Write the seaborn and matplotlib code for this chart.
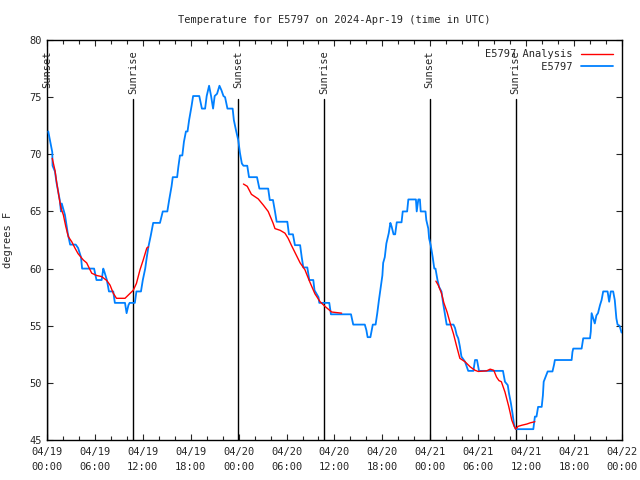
import pandas as pd
import matplotlib
matplotlib.use("Agg")
import matplotlib.pyplot as plt
import matplotlib.dates as mdates
import seaborn as sns

# hours since 2024-04-19 00:00 UTC
obs_hours = [0.16, 0.66, 0.7, 1.0, 1.2, 1.6, 1.75, 1.85, 2.25, 2.6, 2.9, 3.6, 3.9, 4.26, 4.4,
             5.9, 6.2, 6.85, 7.05, 7.2, 7.5, 7.76, 8.3, 8.5, 9.77, 9.97, 10.2, 10.35, 11.0,
             11.2, 11.77, 12.0, 12.3, 12.5, 12.7, 13.0, 13.3, 14.15, 14.5, 15.07, 15.3, 15.6,
             15.75, 16.3, 16.45, 16.65, 16.95, 17.15, 17.4, 17.6, 17.8, 18.1, 18.3, 19.07,
             19.4, 19.8, 20.0, 20.3, 20.55, 20.8, 21.0, 21.3, 21.6, 21.85, 22.1, 22.3, 22.6,
             23.25, 23.4, 23.67, 23.95, 24.17, 24.4, 24.6, 25.08, 25.3, 26.3, 26.6, 27.7,
             27.9, 28.3, 28.55, 28.76, 30.1, 30.3, 30.8, 31.05, 31.7, 31.9, 32.1, 32.6, 32.85,
             33.35, 33.5, 34.0, 34.1, 35.35, 35.56, 38.07, 38.35, 39.8, 40.0, 40.15, 40.5,
             40.66, 40.8, 41.15, 41.36, 41.57, 41.8, 42.0, 42.1, 42.3, 42.5, 42.8, 43.0,
             43.15, 43.4, 43.6, 43.8, 44.4, 44.55, 45.1, 45.25, 46.2, 46.3, 46.5, 46.7, 46.8,
             47.4, 47.5, 47.75, 47.85, 48.05, 48.3, 48.5, 48.65, 48.9, 49.1, 49.4, 49.6,
             49.85, 50.05, 50.9, 51.1, 51.3, 51.5, 51.7, 51.9, 52.35, 52.75, 53.4, 53.6,
             53.85, 54.1, 57.1, 57.35, 57.7, 57.85, 58.1, 58.3, 58.5, 58.7, 60.9, 61.1, 61.3,
             61.5, 61.95, 62.1, 62.2, 62.45, 62.7, 63.3, 63.5, 63.6, 65.7, 65.8, 65.9, 66.95,
             67.15, 68.0, 68.1, 68.2, 68.4, 68.6, 68.8, 69.0, 69.25, 69.45, 69.65, 70.2, 70.4,
             70.6, 70.9, 71.1, 71.3, 71.45, 71.7, 71.95]
obs_temps = [72.0, 70.2, 69.0, 68.5, 67.5, 66.0, 65.0, 65.7, 64.7, 63.1, 62.1, 62.1, 61.8, 61.0, 60.0,
             60.0, 59.0, 59.0, 60.0, 59.7, 59.0, 58.0, 58.0, 57.0, 57.0, 56.1, 56.8, 57.0, 57.0,
             58.0, 58.0, 59.0, 60.0, 61.0, 61.9, 62.9, 64.0, 64.0, 65.0, 65.0, 66.0, 67.2,
             68.0, 68.0, 68.9, 69.9, 69.9, 71.1, 72.0, 72.0, 73.0, 74.2, 75.1, 75.1,
             74.0, 74.0, 75.1, 76.0, 75.1, 74.0, 75.1, 75.3, 76.0, 75.6, 75.1, 75.0, 74.0,
             74.0, 73.0, 72.1, 71.25, 70.1, 69.2, 69.0, 69.0, 68.0, 68.0, 67.0, 67.0,
             66.0, 66.0, 65.0, 64.1, 64.1, 63.0, 63.0, 62.05, 62.05, 61.0, 60.1, 60.1, 59.0,
             59.0, 58.1, 57.5, 57.0, 57.0, 56.0, 56.0, 55.1, 55.1, 54.6, 54.0, 54.0,
             54.6, 55.1, 55.1, 56.1, 57.25, 58.4, 59.4, 60.5, 61.0, 62.2, 63.1, 64.0,
             63.7, 63.0, 63.0, 64.05, 64.05, 65.0, 65.0, 66.05, 66.05, 65.0, 66.05, 66.05, 65.0,
             65.0, 64.25, 63.5, 62.65, 62.05, 61.0, 60.0, 60.0, 59.0, 58.4, 58.0, 57.0,
             55.95, 55.1, 55.1, 54.8, 54.2, 53.9, 53.2, 52.3, 51.85, 51.05, 51.05, 52.0,
             52.0, 51.05, 51.05, 50.1, 49.8, 49.1, 48.2, 47.3, 46.3, 45.95, 45.95, 47.05, 47.05,
             47.9, 47.9, 48.9, 50.1, 50.55, 51.0, 51.0, 51.6, 52.0, 52.0, 52.7, 53.0, 53.0,
             53.9, 53.9, 54.5, 56.1, 55.65, 55.2, 55.9, 56.1, 56.8, 57.25, 58.0, 58.0, 57.1,
             58.0, 58.0, 57.25, 55.65, 55.1, 55.0, 54.4]

# analysis segments
ana_hours = [
    [0.66, 1.0, 1.2, 1.5, 1.75, 2.05, 2.35, 2.67, 3.1, 3.5, 3.9, 4.55, 4.97, 5.6, 6.2, 6.85,
     7.5, 7.9, 8.3, 8.7, 9.77, 10.8, 11.2, 11.65, 12.05, 12.5, 12.7],
    [24.6, 25.08, 25.6, 26.45, 27.1, 27.7, 28.3, 28.55, 29.2, 29.8, 30.2, 30.6, 31.7, 32.3,
     32.9, 33.55, 34.2, 34.8, 35.65, 36.9],
    [48.7, 49.0, 49.4, 49.7, 50.1, 50.5, 50.9, 51.3, 51.7, 52.35, 53.0, 53.6, 54.0, 55.05,
     55.5, 55.95, 56.3, 56.6, 56.9, 57.35, 57.8, 58.0, 58.2, 58.5, 58.7, 59.0, 59.5, 60.1,
     60.5, 61.1],
]
ana_temps = [
    [69.65, 68.6, 67.6, 66.3, 65.3, 64.7, 63.7, 62.8, 62.35, 61.8, 61.3, 60.75, 60.5, 59.6,
     59.4, 59.3, 58.95, 58.55, 57.85, 57.4, 57.4, 58.1, 58.7, 59.9, 60.75, 61.8, 61.9],
    [67.4, 67.2, 66.5, 66.1, 65.55, 65.0, 64.0, 63.5, 63.35, 63.1, 62.65, 62.05, 60.5, 59.9,
     58.85, 57.8, 57.1, 56.7, 56.2, 56.1],
    [58.9, 58.55, 57.85, 57.0, 56.2, 55.2, 54.3, 53.2, 52.15, 51.85, 51.4, 51.1, 51.0, 51.05,
     51.2, 51.1, 50.5, 50.2, 50.1, 49.2, 48.0, 47.4, 46.75, 46.2, 45.95, 46.2, 46.3, 46.4,
     46.5, 46.6],
]

sun_hours = [0.02, 10.76, 23.9, 34.67, 47.93, 58.7]
sun_labels = ["Sunset", "Sunrise", "Sunset", "Sunrise", "Sunset", "Sunrise"]

start = pd.Timestamp("2024-04-19 00:00")
end = pd.Timestamp("2024-04-22 00:00")


def to_time(hours):
    return start + pd.to_timedelta(hours, unit="h")


sns.set_style("ticks")
plt.rcParams["font.family"] = ["DejaVu Sans Mono"]
plt.rcParams["font.size"] = 7

fig = plt.figure(figsize=(6.4, 4.8), dpi=100)
ax = fig.add_axes([0.0734, 0.0833, 0.8984, 0.8333])

red = "#ff0000"
blue = "#0080ff"

for i, (h, t) in enumerate(zip(ana_hours, ana_temps)):
    seg = pd.DataFrame({"time": to_time(h), "temp": t})
    sns.lineplot(data=seg, x="time", y="temp", ax=ax, color=red, linewidth=1.0,
                 estimator=None, sort=False, zorder=4,
                 label="E5797 Analysis" if i == 0 else None)

obs = pd.DataFrame({"time": to_time(obs_hours), "temp": obs_temps})
sns.lineplot(data=obs, x="time", y="temp", ax=ax, color=blue, linewidth=1.3,
             estimator=None, sort=False, zorder=3, label="         E5797")

for h, lab in zip(sun_hours, sun_labels):
    tm = to_time(h)
    ax.axvline(tm, ymin=0, ymax=0.8525, color="black", linewidth=1.0, zorder=2)
    ax.text(tm, 0.975, lab, rotation=90, ha="center", va="top",
            transform=ax.get_xaxis_transform(), fontsize=7.5)

ax.set_xlim(start, end)
ax.set_ylim(45, 80)
ax.set_yticks(range(45, 81, 5))
ax.xaxis.set_major_locator(mdates.HourLocator(byhour=[0, 6, 12, 18]))
ax.xaxis.set_minor_locator(mdates.HourLocator(interval=2))
ax.xaxis.set_major_formatter(mdates.DateFormatter("%m/%d\n%H:%M"))
ax.tick_params(which="both", direction="in", top=True, right=True, labelsize=7.5)
ax.tick_params(which="major", length=4.5, width=0.8)
ax.tick_params(which="minor", length=3, width=0.8)
ax.tick_params(axis="x", pad=5)
for sp in ax.spines.values():
    sp.set_linewidth(1.0)
    sp.set_color("black")

ax.set_xlabel("")
ax.set_ylabel("degrees F", fontsize=7.5, labelpad=12)
ax.set_title("Temperature for E5797 on 2024-Apr-19 (time in UTC)", fontsize=7.5, pad=12.5)

leg = ax.legend(loc="upper right", frameon=False, markerfirst=False, handlelength=3.0,
                fontsize=7.5, borderaxespad=0.5, labelspacing=0.25, handletextpad=0.8)
fig.canvas.draw()
for lbl in ax.get_xticklabels():
    lbl.set_linespacing(1.6)

fig.savefig("out.png", dpi=100)
